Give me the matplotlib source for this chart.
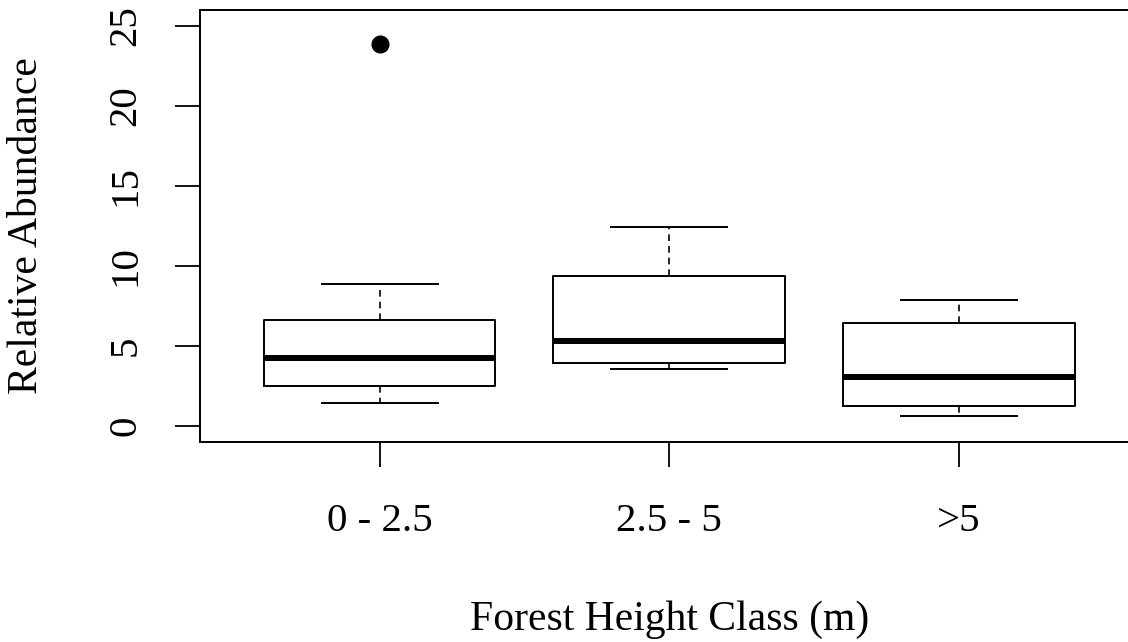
import matplotlib
matplotlib.use("Agg")
import matplotlib.pyplot as plt

# summary values
classes = ["0 - 2.5", "2.5 - 5", ">5"]
whisker_low = [1.4, 3.55, 0.6]
q1 = [2.5, 3.9, 1.25]
medians = [4.2, 5.3, 3.05]
q3 = [6.57, 9.35, 6.4]
whisker_high = [8.85, 12.4, 7.85]
outliers = [[23.85], [], []]
y_ticks = [0, 5, 10, 15, 20, 25]

plt.rcParams['font.family'] = ['Liberation Serif', 'DejaVu Serif']

fig = plt.figure(figsize=(11.28, 6.42), dpi=100)
W, H = 1128.0, 642.0
# plot region in pixels (right edge runs past the image like the original)
ax = fig.add_axes([200 / W, (H - 441.5) / H, 938.5 / W, 432 / H])

stats = []
for i in range(len(classes)):
    stats.append(dict(med=medians[i], q1=q1[i], q3=q3[i],
                      whislo=whisker_low[i], whishi=whisker_high[i],
                      fliers=outliers[i], label=classes[i]))

ax.bxp(stats, positions=[1, 2, 3], widths=0.8, showfliers=True,
       boxprops=dict(color='black', linewidth=1.4),
       medianprops=dict(color='black', linewidth=4.3, solid_capstyle='butt'),
       whiskerprops=dict(color='black', linewidth=1.2, linestyle=(0, (4, 3))),
       capprops=dict(color='black', linewidth=1.4),
       capwidths=0.4,
       flierprops=dict(marker='o', markerfacecolor='black',
                       markeredgecolor='black', markersize=12))

ax.set_xlim(0.38, 3.62)
ax.set_ylim(-1, 26)

ax.set_yticks(y_ticks)
ax.set_yticklabels([str(t) for t in y_ticks], rotation=90, va='center')
ax.set_xticks([1, 2, 3])
ax.set_xticklabels(classes)

ax.tick_params(axis='both', direction='out', length=18, width=1.3,
               labelsize=29.5, color='black')
ax.tick_params(axis='y', pad=22)
ax.tick_params(axis='x', pad=26)

for s in ['left', 'top', 'bottom', 'right']:
    ax.spines[s].set_linewidth(1.4)

ax.set_xlabel("Forest Height Class (m)", fontsize=30, labelpad=44)
ax.set_ylabel("Relative Abundance", fontsize=30, labelpad=44)

fig.savefig("out.png", dpi=100)
